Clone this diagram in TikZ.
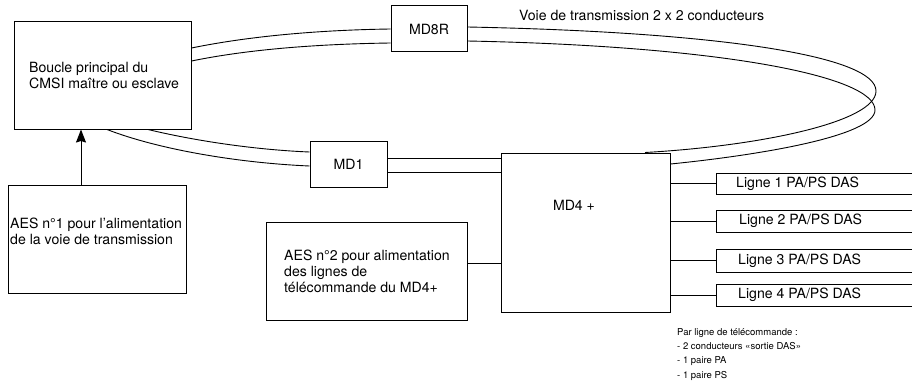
\documentclass[tikz,border=0pt]{standalone}
\usepackage{fontspec}
\setmainfont{TeX Gyre Heros}
\usetikzlibrary{arrows.meta}
\tikzset{
  box/.style={draw=black, line width=1pt, inner sep=0pt},
  txt/.style={font=\fontsize{14.1}{16}\selectfont, inner sep=0pt, align=left},
  small/.style={font=\fontsize{9.5}{14.3}\selectfont, inner sep=0pt, align=left},
  wire/.style={line width=0.9pt, draw=black},
}
\begin{document}
\begin{tikzpicture}[x=1pt,y=-1pt]
\useasboundingbox (0,0) rectangle (912,385);
% boxes
\node[box, minimum width=177pt, minimum height=107pt] (cmsi) at (102.5,75.5) {};
\node[txt, anchor=west] (cmsit) at (29,75) {Boucle principal du\\CMSI maître ou esclave};
\node[box, minimum width=76pt, minimum height=46pt, txt] (md8r) at (429,29) {MD8R};
\node[box, minimum width=77pt, minimum height=46pt, txt] (md1) at (348.5,164) {MD1};
\node[box, minimum width=169pt, minimum height=159pt] (md4) at (585.5,232.5) {};
\node[txt] (md4t) at (574,205) {MD4 +};
\node[box, minimum width=178pt, minimum height=108pt] (aes1) at (97,239) {};
\node[txt, anchor=west] (aes1t) at (10,231) {AES n°1 pour l’alimentation\\de la voie de transmission};
\node[box, minimum width=201pt, minimum height=98pt] (aes2) at (366.5,271) {};
\node[txt, anchor=west] (aes2t) at (284,271) {AES n°2 pour alimentation\\des lignes de\\télécommande du MD4+};
% ligne boxes
\node[box, minimum width=200pt, minimum height=21pt, anchor=west] (l1) at (716,183.5) {};
\node[box, minimum width=200pt, minimum height=22pt, anchor=west] (l2) at (716,221) {};
\node[box, minimum width=200pt, minimum height=23pt, anchor=west] (l3) at (716,260.5) {};
\node[box, minimum width=200pt, minimum height=22pt, anchor=west] (l4) at (716,295) {};
\node[txt, anchor=west] (l1t) at (736,183.5) {Ligne 1 PA/PS DAS};
\node[txt, anchor=west] (l2t) at (739,221) {Ligne 2 PA/PS DAS};
\node[txt, anchor=west] (l3t) at (738,260.5) {Ligne 3 PA/PS DAS};
\node[txt, anchor=west] (l4t) at (738,295) {Ligne 4 PA/PS DAS};
% labels
\node[txt, anchor=west] (voie) at (519,15) {Voie de transmission 2 x 2 conducteurs};
\node[small, anchor=north west] (note) at (677,328) {Par ligne de télécommande :\\- 2 conducteurs «sortie DAS»\\- 1 paire PA\\- 1 paire PS};
% arrow
\draw[line width=1pt, -{Stealth[length=13pt, width=10pt, inset=1.5pt]}] (aes1.north -| 81,0) -- (cmsi.south -| 81,0);
% CMSI -> MD8R
\draw[wire] ([yshift=27.5pt]cmsi.east) .. controls (250,36) and (320,30) .. ([yshift=0pt]md8r.west);
\draw[wire] ([yshift=14.5pt]cmsi.east) .. controls (250,49) and (320,44) .. ([yshift=-14pt]md8r.west);
% CMSI -> MD1
\draw[wire] ([xshift=45.5pt]cmsi.south) .. controls (200,142) and (260,150) .. ([yshift=12pt]md1.west);
\draw[wire] ([xshift=4.5pt]cmsi.south) .. controls (160,150) and (240,163) .. ([yshift=-2pt]md1.west);
% MD1 -> MD4
\draw[wire] ([yshift=6pt]md1.east) -- ([yshift=6pt]md1.east -| md4.west);
\draw[wire] ([yshift=-8pt]md1.east) -- ([yshift=-8pt]md1.east -| md4.west);
% loop MD8R -> MD4
\coordinate (ra) at (876,91);
\coordinate (rb) at (875,110);
\draw[wire] ([yshift=2pt]md8r.east) .. controls (720,32) and (876,56) .. (ra)
  .. controls (876,122) and (760,146) .. ([xshift=59.5pt]md4.north);
\draw[wire] ([yshift=-12pt]md8r.east) .. controls (720,46) and (875,76) .. (rb)
  .. controls (875,136) and (760,155) .. ([yshift=68.5pt]md4.east);
% AES2 -> MD4
\draw[wire] ([yshift=8pt]aes2.east) -- ([yshift=8pt]aes2.east -| md4.west);
% MD4 -> lignes
\draw[wire] (l1.west -| md4.east) -- (l1.west);
\draw[wire] (l2.west -| md4.east) -- (l2.west);
\draw[wire] (l3.west -| md4.east) -- (l3.west);
\draw[wire] (l4.west -| md4.east) -- (l4.west);
\end{tikzpicture}
\end{document}
